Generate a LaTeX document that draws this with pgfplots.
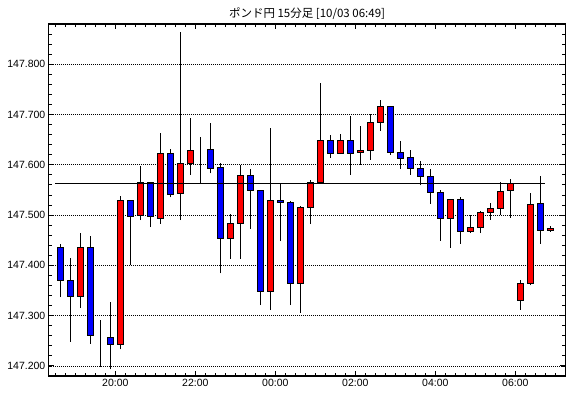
\documentclass[border=0pt]{standalone}
\usepackage{pgfplots}
\pgfplotsset{compat=1.18}
\usepackage{pgfplotstable}
\usepackage{fontspec}
\setmainfont{Liberation Sans}
\newfontfamily\jpfont{Noto Sans CJK JP}

\definecolor{upred}{RGB}{255,0,0}
\definecolor{downblue}{RGB}{0,0,255}

% 15-minute candles: index, open, high, low, close
\pgfplotstableread{
i o h l c
0 147.436 147.443 147.337 147.370
1 147.370 147.415 147.248 147.338
2 147.338 147.464 147.315 147.436
3 147.436 147.458 147.244 147.260
4 147.259 147.291 147.197 147.259
5 147.257 147.327 147.193 147.242
6 147.242 147.538 147.233 147.529
7 147.529 147.529 147.400 147.497
8 147.500 147.598 147.490 147.565
9 147.565 147.565 147.476 147.497
10 147.493 147.663 147.483 147.623
11 147.623 147.632 147.535 147.541
12 147.543 147.864 147.490 147.603
13 147.603 147.693 147.580 147.629
14 147.630 147.655 147.563 147.630
15 147.631 147.683 147.583 147.593
16 147.595 147.603 147.384 147.454
17 147.454 147.502 147.413 147.484
18 147.484 147.600 147.413 147.579
19 147.579 147.592 147.473 147.549
20 147.549 147.549 147.321 147.349
21 147.349 147.673 147.311 147.529
22 147.529 147.563 147.448 147.525
23 147.525 147.528 147.321 147.364
24 147.364 147.518 147.305 147.516
25 147.516 147.570 147.482 147.565
26 147.565 147.763 147.565 147.649
27 147.649 147.659 147.614 147.623
28 147.623 147.661 147.621 147.649
29 147.649 147.697 147.580 147.623
30 147.625 147.677 147.600 147.629
31 147.629 147.701 147.610 147.685
32 147.685 147.729 147.668 147.716
33 147.716 147.716 147.620 147.624
34 147.625 147.647 147.592 147.613
35 147.615 147.630 147.580 147.593
36 147.593 147.607 147.559 147.577
37 147.577 147.592 147.523 147.545
38 147.545 147.549 147.449 147.494
39 147.494 147.531 147.435 147.531
40 147.531 147.536 147.443 147.468
41 147.468 147.500 147.464 147.476
42 147.476 147.508 147.464 147.506
43 147.506 147.524 147.491 147.514
44 147.514 147.566 147.500 147.547
45 147.549 147.572 147.495 147.563
46 147.331 147.371 147.312 147.364
47 147.364 147.543 147.360 147.521
48 147.523 147.578 147.443 147.470
49 147.470 147.478 147.467 147.474
}\candles

\pgfplotstableread{
x y
-0.5 147.563
48.5 147.563
}\refline

\pgfplotsset{
  geom/.style={
    at={(48.8bp,22bp)}, anchor=south west,
    scale only axis, width=516.5bp, height=352bp,
    xmin=-1.15, xmax=50.5,
  },
}

\begin{document}
\begin{tikzpicture}
\fill[white] (0,0) rectangle (570bp,398bp);
\useasboundingbox (0,0) rectangle (570bp,398bp);

% frame, ticks, grid, wicks
\begin{axis}[geom,
  ymin=147.18, ymax=147.88,
  axis line style={black, line width=1.2bp},
  tick align=inside,
  major tick length=5bp, minor tick length=3bp,
  tick style={black, line width=0.9bp},
  xtick={5.5,13.5,21.5,29.5,37.5,45.5},
  xticklabels={20:00,22:00,00:00,02:00,04:00,06:00},
  minor xtick={-0.5,0.5,...,49.5},
  ytick={147.2,147.3,147.4,147.5,147.6,147.7,147.8},
  minor ytick={147.18,147.20,...,147.88},
  yticklabel style={/pgf/number format/fixed, /pgf/number format/fixed zerofill,
    /pgf/number format/precision=3, /pgf/number format/assume math mode=true},
  tick label style={font=\fontsize{10.5bp}{12bp}\selectfont, black},
  ymajorgrids,
  major grid style={black, line width=0.8bp, dash pattern=on 1bp off 1bp},
  title={\jpfont ポンド円 15分足 [10/03 06:49]},
  title style={font=\fontsize{11.5bp}{13bp}\selectfont, at={(0.5,1)}, anchor=base, yshift=0.8bp, inner sep=0pt},
]
\addplot[draw=none, mark=none,
  error bars/.cd, y dir=plus, y explicit, error mark=none,
  error bar style={draw=black, line width=1bp, solid}]
  table[x=i, y=l, y error plus expr={\thisrow{h}-\thisrow{l}}] {\candles};
\end{axis}

% candle bodies (stacked: invisible base, rising body, falling body), offset by 147 for the bar base
\begin{axis}[geom,
  ymin=0.18, ymax=0.88,
  hide axis,
  ybar stacked, bar width=6bp,
]
\addplot[draw=none, fill=none] table[x=i, y expr={min(\thisrow{o},\thisrow{c})-147}] {\candles};
\addplot[draw=black, fill=upred, line width=1bp] table[x=i, y expr={max(\thisrow{c}-\thisrow{o},0)}] {\candles};
\addplot[draw=black, fill=downblue, line width=1bp] table[x=i, y expr={max(\thisrow{o}-\thisrow{c},0)}] {\candles};
\end{axis}

% reference line on top
\begin{axis}[geom,
  ymin=147.18, ymax=147.88,
  hide axis,
]
\addplot[black, line width=1.1bp, mark=none] table[x=x, y=y] {\refline};
\end{axis}
\end{tikzpicture}
\end{document}
